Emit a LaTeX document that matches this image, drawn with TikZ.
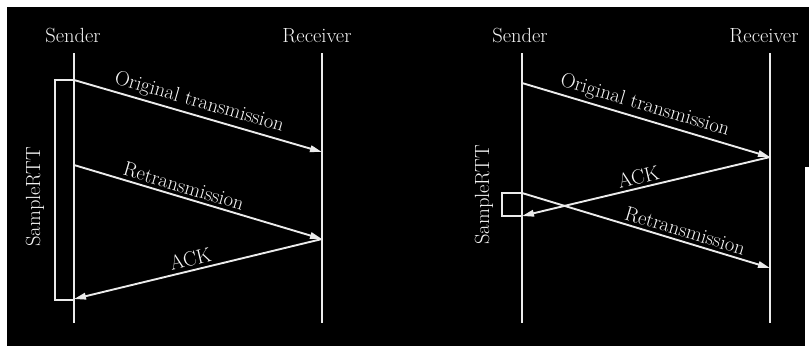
\documentclass[tikz,border=0pt]{standalone}
\usetikzlibrary{arrows.meta}
\begin{document}
\begin{tikzpicture}[x=1pt,y=-1pt,
  fg/.style={draw=white!92!black, line width=1.9pt},
  msg/.style={fg, -{Triangle[length=12pt,width=6.5pt]}},
  lbl/.style={text=white!96!black, font=\fontsize{20.5}{22}\selectfont, inner sep=0pt},
  mlbl/.style={lbl, sloped, above=3pt},
  lifeline/.style={fg}]
\useasboundingbox (0,0) rectangle (809,346);
\fill[white] (0,0) rectangle (809,346);
\fill[black] (7,7) rectangle (809,346);
\fill[white] (805,167) rectangle (809,346);

% ---- left diagram ----
\node[lbl, anchor=base] (sA) at (73,42) {Sender};
\node[lbl, anchor=base] (rA) at (317,42) {Receiver};
\coordinate (sAt) at (74,53); \coordinate (sAb) at (74,323);
\coordinate (rAt) at (322,53); \coordinate (rAb) at (322,323);
\draw[lifeline] (sAt) -- (sAb);
\draw[lifeline] (rAt) -- (rAb);
\coordinate (a1) at (74,80);  \coordinate (a2) at (322,152);
\coordinate (a3) at (74,165); \coordinate (a4) at (322,239);
\coordinate (a5) at (74,299);
\draw[msg] (a1) -- node[mlbl, pos=0.49] {Original transmission} (a2);
\draw[msg] (a3) -- node[mlbl, pos=0.43] {Retransmission} (a4);
\draw[msg] (a4) -- node[mlbl, pos=0.52] {ACK} (a5);
\coordinate (bA1) at (55,80); \coordinate (bA2) at (55,300);
\draw[fg] (a1) -- (bA1) -- (bA2) -- (74,300);
\node[lbl, rotate=90] (rttA) at (35,197) {SampleRTT};

% ---- right diagram ----
\node[lbl, anchor=base] (sB) at (520,42) {Sender};
\node[lbl, anchor=base] (rB) at (764,42) {Receiver};
\coordinate (sBt) at (522,53); \coordinate (sBb) at (522,323);
\coordinate (rBt) at (770,53); \coordinate (rBb) at (770,323);
\draw[lifeline] (sBt) -- (sBb);
\draw[lifeline] (rBt) -- (rBb);
\coordinate (b1) at (522,83);  \coordinate (b2) at (770,157);
\coordinate (b3) at (522,216); \coordinate (b4) at (522,193);
\coordinate (b5) at (770,268);
\draw[msg] (b1) -- node[mlbl, pos=0.48] {Original transmission} (b2);
\draw[msg] (b2) -- node[mlbl, pos=0.52] {ACK} (b3);
\draw[msg] (b4) -- node[mlbl, pos=0.645] {Retransmission} (b5);
\coordinate (bB1) at (502,193); \coordinate (bB2) at (502,216);
\draw[fg] (b4) -- (bB1) -- (bB2) -- (b3);
\node[lbl, rotate=90] (rttB) at (484,195) {SampleRTT};
\end{tikzpicture}
\end{document}
